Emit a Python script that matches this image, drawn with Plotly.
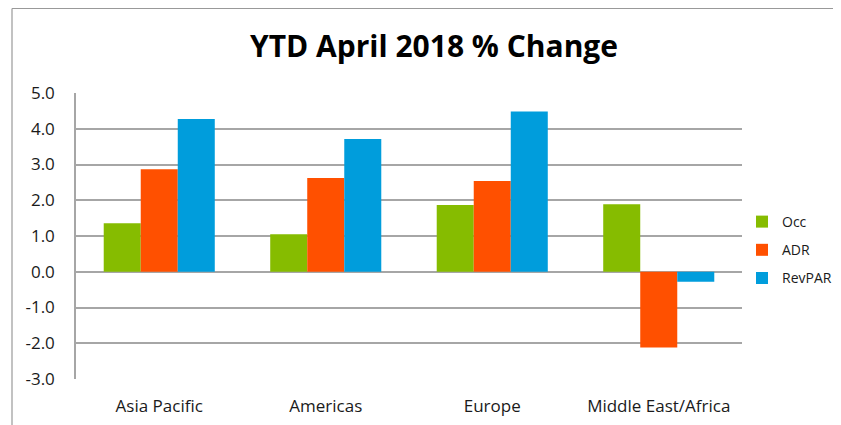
import plotly.graph_objects as go

categories = ["Asia Pacific", "Americas", "Europe", "Middle East/Africa"]
occ = [1.36, 1.05, 1.87, 1.89]
adr = [2.87, 2.62, 2.54, -2.12]
revpar = [4.27, 3.71, 4.48, -0.28]
y_ticks = [5.0, 4.0, 3.0, 2.0, 1.0, 0.0, -1.0, -2.0, -3.0]
y_tick_labels = ["5.0", "4.0", "3.0", "2.0", "1.0", "0.0", "-1.0", "-2.0", "-3.0"]

series = [("Occ", occ, "#86bc00"), ("ADR", adr, "#ff5000"), ("RevPAR", revpar, "#009ddc")]

fig = go.Figure()
for name, vals, col in series:
    fig.add_trace(go.Bar(x=categories, y=vals, name=name, legendgroup=name,
                         marker=dict(color=col, line=dict(width=0))))

grid = "#a6a6a6"
# page body has an 8px margin; figure sized/margined to compensate
W, H = 833, 417
L, T = 68, 85
R = W - 734
B = H - 371
fig.update_layout(
    width=W, height=H,
    margin=dict(l=L, r=R, t=T, b=B, autoexpand=False),
    paper_bgcolor="white", plot_bgcolor="white",
    barmode="group", bargap=0.333, bargroupgap=0,
    font=dict(family="Open Sans, sans-serif", color="#1a1a1a"),
    title=dict(text="<b>YTD April 2018 % Change</b>", x=(434 - 8) / W, xanchor="center",
               y=1 - (46 - 8) / H, yanchor="middle", xref="container", yref="container",
               font=dict(size=30, color="#000000", family="Open Sans, sans-serif")),
    showlegend=True,
    legend=dict(x=1.0, xanchor="left", y=0.451, yanchor="middle",
                font=dict(size=14, color="#1a1a1a"), tracegroupgap=7,
                bgcolor="rgba(0,0,0,0)"),
    xaxis=dict(showgrid=False, showline=False, ticks="", ticklabelstandoff=15,
               tickfont=dict(size=17, color="#1a1a1a")),
    yaxis=dict(range=[-3.0, 5.0], tickvals=y_ticks, ticktext=y_tick_labels,
               showgrid=True, gridcolor=grid, gridwidth=1.5,
               zeroline=False, showline=True, linecolor=grid, linewidth=1.5,
               ticks="", ticklabelstandoff=16, tickfont=dict(size=17, color="#1a1a1a")),
)

ph = H - T - B
pw = W - L - R
fx = (4 - L) / pw
fy = (H - B - 0.5) / ph
# outer chart frame (left and top edges)
fig.add_shape(type="line", xref="paper", yref="paper", x0=fx, x1=fx, y0=-0.5, y1=fy,
              line=dict(color="#999999", width=1.2))
fig.add_shape(type="line", xref="paper", yref="paper", x0=fx, x1=1.5, y0=fy, y1=fy,
              line=dict(color="#999999", width=1.2))

fig.write_html("out.html")
